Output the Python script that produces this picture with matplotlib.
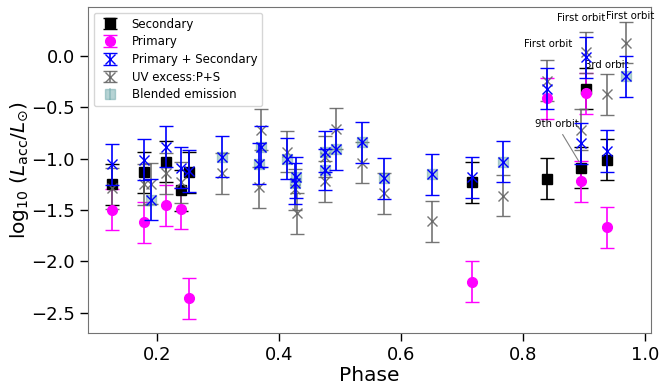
import matplotlib
matplotlib.use("Agg")
import matplotlib.pyplot as plt
import numpy as np

# Secondary
sec_phase = [0.127, 0.179, 0.215, 0.240, 0.253, 0.716, 0.840, 0.895, 0.903, 0.937]
sec_val = [-1.25, -1.13, -1.03, -1.31, -1.13, -1.23, -1.195, -1.09, -0.32, -1.01]
# Primary
pri_phase = [0.127, 0.179, 0.215, 0.240, 0.253, 0.716, 0.840, 0.895, 0.903, 0.937]
pri_val = [-1.50, -1.62, -1.455, -1.49, -2.36, -2.20, -0.41, -1.22, -0.36, -1.67]
# Primary + Secondary
ps_phase = [0.127, 0.179, 0.191, 0.215, 0.240, 0.253, 0.307, 0.368, 0.371, 0.414,
            0.428, 0.426, 0.476, 0.476, 0.493, 0.537, 0.573, 0.651, 0.716, 0.767,
            0.840, 0.895, 0.903, 0.937, 0.969]
ps_val = [-1.055, -1.01, -1.40, -0.885, -1.09, -1.12, -0.98, -1.05, -0.885, -1.00,
          -1.18, -1.24, -0.93, -1.11, -0.91, -0.84, -1.19, -1.15, -1.18, -1.03,
          -0.32, -0.85, -0.01, -0.925, -0.195]
# UV excess: P+S
uv_phase = [0.127, 0.179, 0.191, 0.215, 0.240, 0.307, 0.368, 0.371, 0.414, 0.426,
            0.430, 0.476, 0.476, 0.493, 0.537, 0.573, 0.651, 0.767, 0.840, 0.895,
            0.903, 0.937, 0.969]
uv_val = [-1.29, -1.25, -1.245, -1.14, -1.23, -1.14, -1.28, -0.72, -0.93, -1.30,
          -1.53, -0.98, -1.22, -0.71, -1.04, -1.335, -1.61, -1.36, -0.24, -0.72,
          0.04, -0.37, 0.13]
# Blended emission
bl_phase = [0.191, 0.307, 0.368, 0.371, 0.414, 0.428, 0.426, 0.476, 0.476, 0.493,
            0.537, 0.573, 0.651, 0.767, 0.969]
bl_val = [-1.40, -0.98, -1.05, -0.885, -1.00, -1.18, -1.24, -0.93, -1.11, -0.91,
          -0.84, -1.19, -1.15, -1.03, -0.195]
err = 0.2

# annotations: (text, phase, value)
ann_text = ["First orbit", "First orbit", "First orbit", "3rd orbit"]
ann_x = [0.842, 0.895, 0.975, 0.937]
ann_y = [0.12, 0.37, 0.39, -0.09]

fig = plt.figure(figsize=(6.61, 3.85), dpi=100)
ax = fig.add_axes([0.133, 0.135, 0.852, 0.847])

ax.errorbar(sec_phase, sec_val, yerr=err, fmt='s', color='black', ms=7,
            capsize=5, elinewidth=1.2, label='Secondary', zorder=3)
ax.errorbar(pri_phase, pri_val, yerr=err, fmt='o', color='magenta', ms=7,
            capsize=5, elinewidth=1.2, label='Primary', zorder=3)
ax.errorbar(ps_phase, ps_val, yerr=err, fmt='x', color='blue', ms=7,
            capsize=5, elinewidth=1.2, label='Primary + Secondary', zorder=4)
ax.errorbar(uv_phase, uv_val, yerr=err, fmt='x', color='0.4', ms=7, alpha=0.9,
            capsize=5, elinewidth=1.2, label='UV excess:P+S', zorder=3)
ax.errorbar(bl_phase, bl_val, yerr=err, fmt='s', color='cadetblue', ms=7, alpha=0.45,
            capsize=0, elinewidth=1.2, label='Blended emission', zorder=3.5)

for t, x, y in zip(ann_text, ann_x, ann_y):
    ax.text(x, y, t, fontsize=7.3, ha='center', va='center')
ax.annotate('9th orbit', xy=(0.894, -1.05), xytext=(0.855, -0.665), fontsize=7.3,
            ha='center', va='center',
            arrowprops=dict(arrowstyle='-', color='gray', lw=0.8))

ax.set_xlim(0.087, 1.01)
ax.set_ylim(-2.70, 0.48)
ax.set_xticks([0.2, 0.4, 0.6, 0.8, 1.0])
ax.set_yticks([-2.5, -2.0, -1.5, -1.0, -0.5, 0.0])
ax.tick_params(labelsize=13, length=6, width=1, direction='out')
for s in ax.spines.values():
    s.set_edgecolor('0.45')
ax.set_xlabel('Phase', fontsize=14.5, labelpad=1)
ax.set_ylabel(r'$\log_{10}\,(L_{\rm acc}/L_{\odot})$', fontsize=14.5, labelpad=0)
ax.legend(loc='upper left', fontsize=8.5, borderaxespad=0.5, labelspacing=0.4)

fig.savefig('out.png', dpi=100)
